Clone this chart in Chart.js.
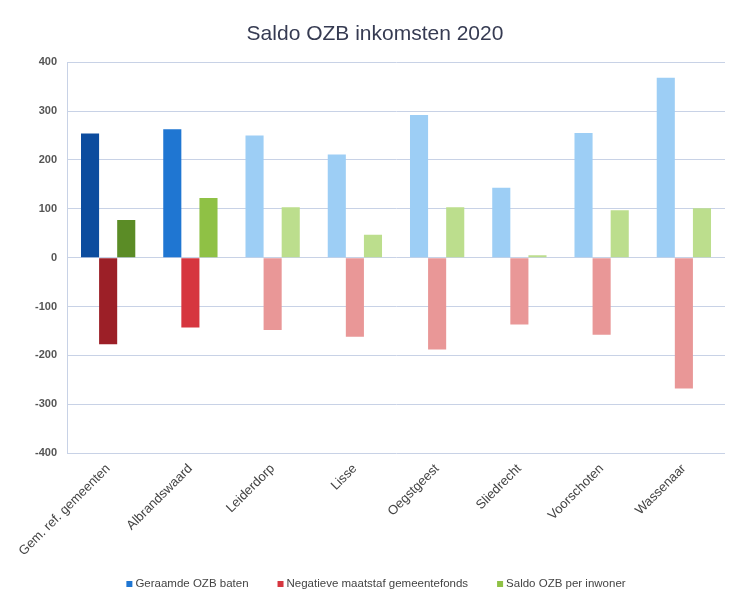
<!DOCTYPE html>
<html>
<head>
<meta charset="utf-8">
<script src="https://cdn.jsdelivr.net/npm/chart.js@4/dist/chart.umd.min.js"></script>
<style>
  html, body { margin: 0; padding: 0; background: #fff; }
  #wrap { width: 729px; height: 596px; }
</style>
</head>
<body>
<div id="wrap"><canvas id="c" width="729" height="596"></canvas></div>
<script>
// data
const categories = ['Gem. ref. gemeenten', 'Albrandswaard', 'Leiderdorp', 'Lisse',
                    'Oegstgeest', 'Sliedrecht', 'Voorschoten', 'Wassenaar'];
const geraamdeBaten     = [254, 263, 250, 211, 292, 143, 255, 368];
const negatieveMaatstaf = [-177, -143, -148, -162, -188, -137, -158, -268];
const saldoPerInwoner   = [77, 122, 103, 47, 103, 5, 97, 101];
const seriesNames = ['Geraamde OZB baten', 'Negatieve maatstaf gemeentefonds', 'Saldo OZB per inwoner'];

// first bar dark, second medium, rest light
const shades = {
  blue : ['#0c4c9e', '#1f76d2', '#9dcef5'],
  red  : ['#9c1f27', '#d6363f', '#e99797'],
  green: ['#5b8c26', '#8fc145', '#bcde8d']
};
function colorsFor(s) {
  return categories.map((_, i) => i === 0 ? s[0] : (i === 1 ? s[1] : s[2]));
}

// legend drawn on the canvas, spaced like the original
const bottomLegend = {
  id: 'bottomLegend',
  afterDraw(chart) {
    const c = chart.ctx;
    const items = [
      [seriesNames[0], shades.blue[1]],
      [seriesNames[1], shades.red[1]],
      [seriesNames[2], shades.green[1]]
    ];
    const gap = 29, box = 6, y = 584;
    c.save();
    c.font = '11.5px "Liberation Sans"';
    c.textBaseline = 'middle';
    let total = 0;
    items.forEach(([t]) => { total += box + 3 + c.measureText(t).width; });
    total += gap * (items.length - 1);
    let x = 376 - total / 2;
    items.forEach(([t, col]) => {
      c.fillStyle = col;
      c.fillRect(x, y - box / 2, box, box);
      x += box + 3;
      c.fillStyle = '#444';
      c.fillText(t, x, y);
      x += c.measureText(t).width + gap;
    });
    c.restore();
  }
};

const ctx = document.getElementById('c').getContext('2d');
new Chart(ctx, {
  type: 'bar',
  data: {
    labels: categories,
    datasets: [
      { label: seriesNames[0], data: geraamdeBaten,     backgroundColor: colorsFor(shades.blue)  },
      { label: seriesNames[1], data: negatieveMaatstaf, backgroundColor: colorsFor(shades.red)   },
      { label: seriesNames[2], data: saldoPerInwoner,   backgroundColor: colorsFor(shades.green) }
    ]
  },
  plugins: [bottomLegend],
  options: {
    responsive: false,
    animation: false,
    categoryPercentage: 0.66,
    barPercentage: 1.0,
    layout: { padding: { left: 25, right: 4, top: 10, bottom: 29 } },
    plugins: {
      title: {
        display: true,
        text: 'Saldo OZB inkomsten 2020',
        color: '#363b52',
        font: { family: 'Liberation Sans', size: 21, weight: 'normal' },
        padding: { top: 12, bottom: 15 }
      },
      legend: { display: false },
      tooltip: { enabled: false }
    },
    scales: {
      x: {
        grid: { display: false, drawTicks: false },
        border: { display: false },
        ticks: {
          color: '#444',
          font: { family: 'Liberation Sans', size: 13 },
          minRotation: 45,
          maxRotation: 45,
          padding: 8
        }
      },
      y: {
        min: -400,
        max: 400,
        ticks: {
          stepSize: 100,
          color: '#555',
          font: { family: 'Liberation Sans', size: 11, weight: 'bold' },
          padding: 10
        },
        grid: { color: '#c8d2e6', drawTicks: false },
        border: { color: '#c8d2e6' }
      }
    }
  }
});
</script>
</body>
</html>
